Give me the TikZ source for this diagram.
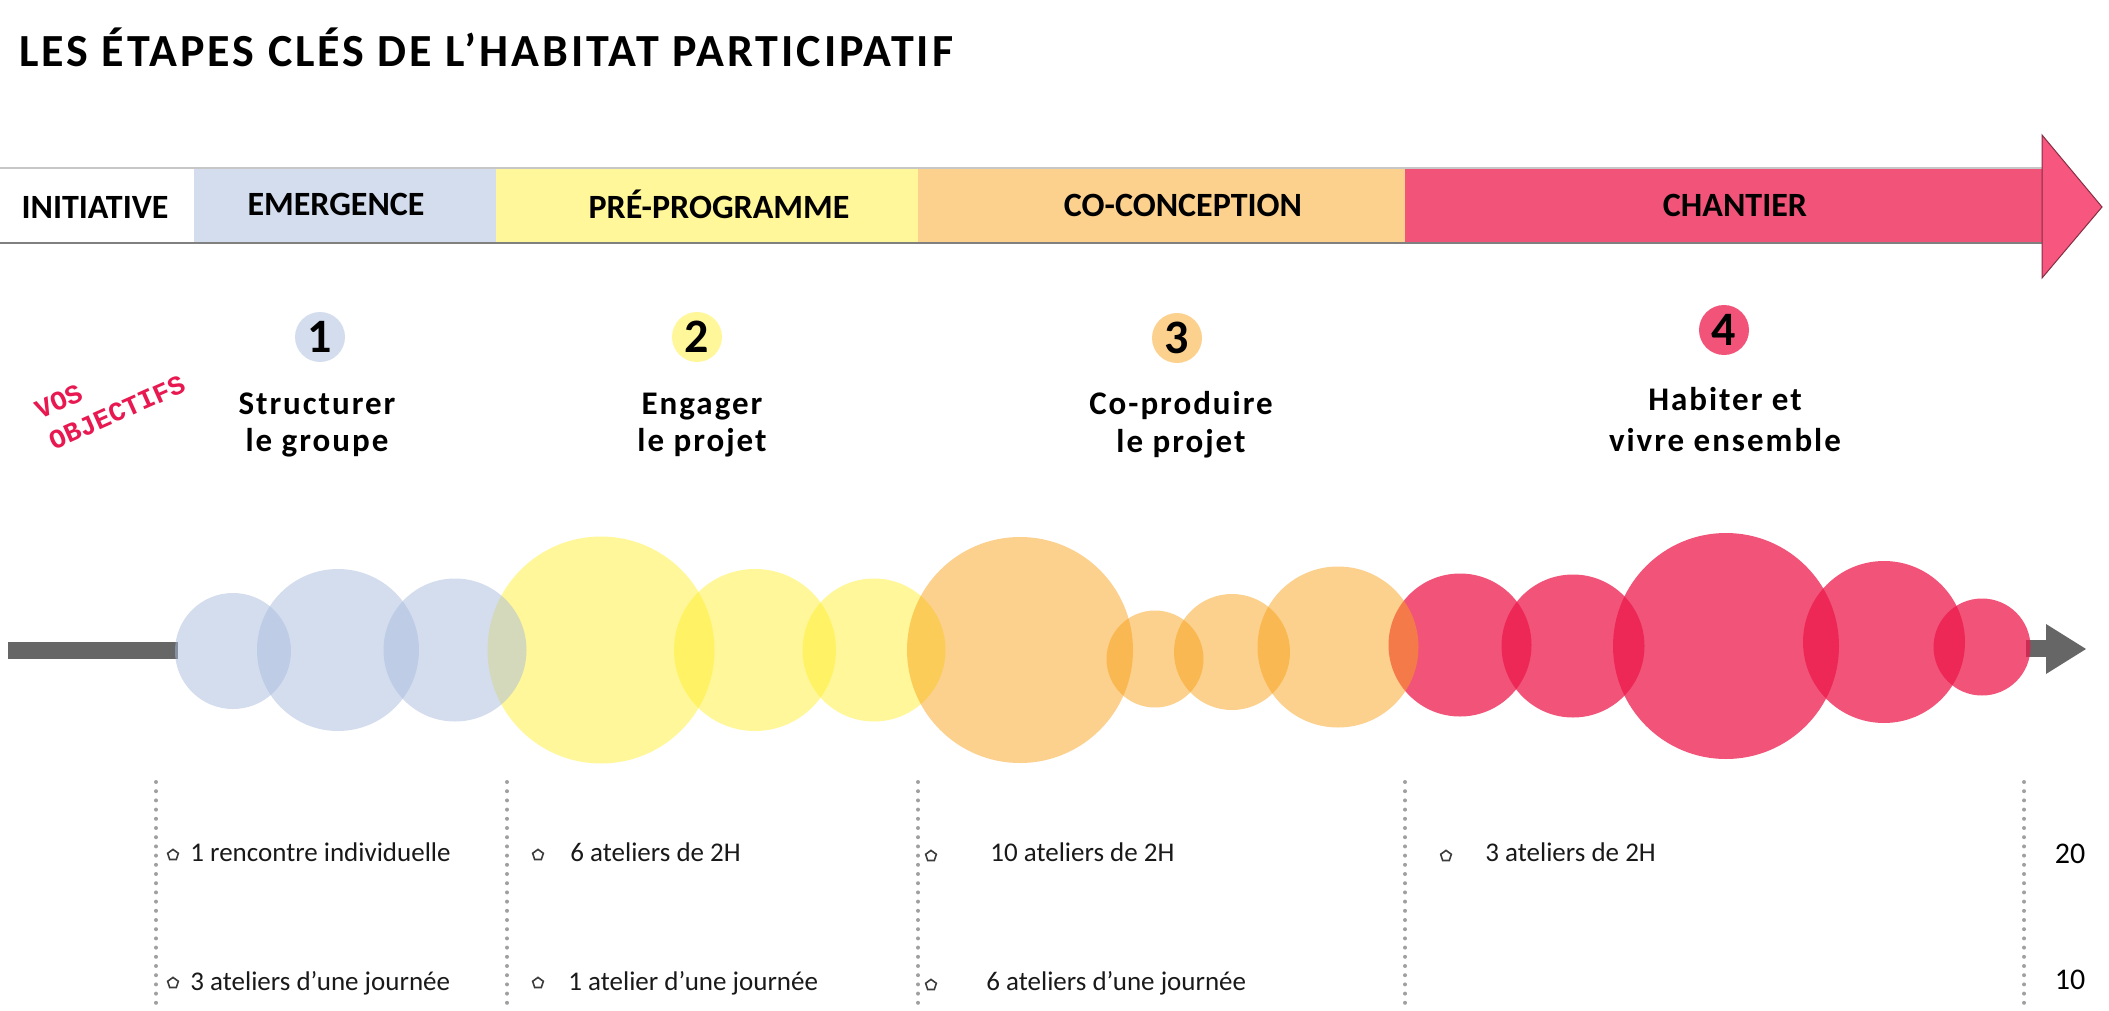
\documentclass[tikz,border=0pt]{standalone}
\usepackage{fontspec}
\setmainfont{Carlito}
\newfontfamily\objfont[LetterSpace=6]{Carlito}
\newfontfamily\titlefont[LetterSpace=6.5]{Carlito}
\newfontfamily\vosfont{Liberation Mono}
\usetikzlibrary{shapes.geometric}
\definecolor{bandblue}{RGB}{212,221,238}
\definecolor{bandyellow}{RGB}{255,247,153}
\definecolor{bandorange}{RGB}{252,208,141}
\definecolor{bandpink}{RGB}{241,83,121}
\definecolor{headpink}{RGB}{247,86,126}
\definecolor{bubblue}{RGB}{169,187,221}
\definecolor{bubyellow}{RGB}{255,239,51}
\definecolor{buborange}{RGB}{249,161,27}
\definecolor{bubpink}{RGB}{236,26,76}
\definecolor{timegray}{RGB}{102,102,102}
\definecolor{dotgray}{RGB}{160,160,160}
\definecolor{vospink}{RGB}{232,24,80}
\definecolor{bulletgray}{RGB}{60,60,60}
\tikzset{
  bandlabel/.style={font=\fontsize{17}{20}\selectfont\bfseries, text=black, inner sep=0pt, anchor=base},
  objtext/.style={font=\objfont\fontsize{16.5}{20}\selectfont\bfseries, inner sep=0pt, anchor=base},
  numtext/.style={font=\fontsize{24}{28}\selectfont\bfseries, inner sep=0pt, anchor=base},
  vostext/.style={font=\vosfont\fontsize{13.5}{17}\selectfont\bfseries, text=vospink, inner sep=0pt, rotate=24, align=left},
  itemtext/.style={font=\fontsize{13.5}{16}\selectfont, text=black!90, inner sep=0pt, anchor=base west},
  counttext/.style={font=\fontsize{15}{18}\selectfont, text=black, inner sep=0pt, anchor=base},
  bulletmark/.style={regular polygon, regular polygon sides=5, draw=bulletgray, line width=0.8pt, minimum size=5.6pt, inner sep=0pt},
  dotline/.style={draw=dotgray, line width=2pt, line cap=round, dash pattern=on 0pt off 4.6pt},
  bubA/.style={fill=bubblue, fill opacity=0.5},
  bubB/.style={fill=bubyellow, fill opacity=0.5},
  bubC/.style={fill=buborange, fill opacity=0.5},
  bubD/.style={fill=bubpink, fill opacity=0.75},
}
\begin{document}
\begin{tikzpicture}[x=0.5pt,y=-0.5pt]
\useasboundingbox (0,0) rectangle (2109,1011);
% title
\node[font=\titlefont\fontsize{23}{27}\selectfont\bfseries, inner sep=0pt, anchor=base west] (title) at (19,67) {LES ÉTAPES CLÉS DE L’HABITAT PARTICIPATIF};
% band
\fill[white] (0,168) rectangle (194,243);
\fill[bandblue] (194,168) rectangle (496,243);
\fill[bandyellow] (496,168) rectangle (918,243);
\fill[bandorange] (918,168) rectangle (1405,243);
\fill[bandpink] (1405,168) rectangle (2042,243);
\draw[black!22, line width=1.2pt] (0,168) -- (2042,168);
\draw[black!50, line width=1.2pt] (0,243) -- (2042,243);
\filldraw[fill=headpink, draw=black!45!bandpink, line width=0.5pt] (2042,135) -- (2102,207) -- (2042,278) -- cycle;
\node[bandlabel] (initiative) at (95,218) {INITIATIVE};
\node[bandlabel] (emergence) at (336,215) {EMERGENCE};
\node[bandlabel] (preprog) at (719,218) {PRÉ-PROGRAMME};
\node[bandlabel] (coconc) at (1183,216) {CO-CONCEPTION};
\node[bandlabel] (chantier) at (1735,216) {CHANTIER};
% objectives
\node[vostext] (vos) at (110,397) {VOS\\OBJECTIFS};
\fill[bandblue] (320,337) circle (25);
\node[numtext] (n1) at (320,352) {1};
\fill[bandyellow] (697,337) circle (25);
\node[numtext] (n2) at (697,352) {2};
\fill[bandorange] (1177,338) circle (25);
\node[numtext] (n3) at (1177,353) {3};
\fill[bandpink] (1724,330) circle (25);
\node[numtext] (n4) at (1724,345) {4};
\node[objtext] (o1a) at (317,414) {Structurer};
\node[objtext] (o1b) at (317,451) {le groupe};
\node[objtext] (o2a) at (702,414) {Engager};
\node[objtext] (o2b) at (702,451) {le projet};
\node[objtext] (o3a) at (1181,414) {Co-produire};
\node[objtext] (o3b) at (1181,452) {le projet};
\node[objtext] (o4a) at (1725,410) {Habiter et};
\node[objtext] (o4b) at (1725,451) {vivre ensemble};
% timeline
\fill[timegray] (8,642) rectangle (178,659);
\fill[timegray] (2026,640) rectangle (2048,657);
\fill[timegray] (2046,624) -- (2086,649) -- (2046,674) -- cycle;
% bubbles: pink first, then yellow, orange, blue
\fill[bubD] (1460,645) circle (71.5);
\fill[bubD] (1573,646) circle (71.5);
\fill[bubD] (1726,646) circle (113);
\fill[bubD] (1884,642) circle (81);
\fill[bubD] (1982,647) circle (48.5);
\fill[bubB] (601,650) circle (113.5);
\fill[bubB] (755,650) circle (81);
\fill[bubB] (874,650) circle (71.5);
\fill[bubC] (1020,650) circle (113);
\fill[bubC] (1155,659) circle (48.5);
\fill[bubC] (1232,652) circle (58);
\fill[bubC] (1338,647) circle (80.5);
\fill[bubA] (233,651) circle (58);
\fill[bubA] (338,650) circle (81);
\fill[bubA] (455,650) circle (71.5);
% dotted separators
\coordinate (s1t) at (156,782); \coordinate (s1b) at (156,1011);
\coordinate (s2t) at (507,782); \coordinate (s2b) at (507,1011);
\coordinate (s3t) at (918,782); \coordinate (s3b) at (918,1011);
\coordinate (s4t) at (1405,782); \coordinate (s4b) at (1405,1011);
\coordinate (s5t) at (2024,782); \coordinate (s5b) at (2024,1011);
\draw[dotline] (s1t) -- (s1b);
\draw[dotline] (s2t) -- (s2b);
\draw[dotline] (s3t) -- (s3b);
\draw[dotline] (s4t) -- (s4b);
\draw[dotline] (s5t) -- (s5b);
% items row 1
\node[bulletmark] (b11) at (173,855) {};
\node[itemtext] (t11) at (190,861) {1 rencontre individuelle};
\node[bulletmark] (b12) at (538,855) {};
\node[itemtext] (t12) at (570,861) {6 ateliers de 2H};
\node[bulletmark] (b13) at (931,856) {};
\node[itemtext] (t13) at (990,861) {10 ateliers de 2H};
\node[bulletmark] (b14) at (1446,856) {};
\node[itemtext] (t14) at (1485,861) {3 ateliers de 2H};
\node[counttext] (c20) at (2070,863) {20};
% items row 2
\node[bulletmark] (b21) at (173,983) {};
\node[itemtext] (t21) at (190,990) {3 ateliers d’une journée};
\node[bulletmark] (b22) at (538,983) {};
\node[itemtext] (t22) at (568,990) {1 atelier d’une journée};
\node[bulletmark] (b23) at (931,985) {};
\node[itemtext] (t23) at (986,990) {6 ateliers d’une journée};
\node[counttext] (c10) at (2070,989) {10};
\end{tikzpicture}
\end{document}
